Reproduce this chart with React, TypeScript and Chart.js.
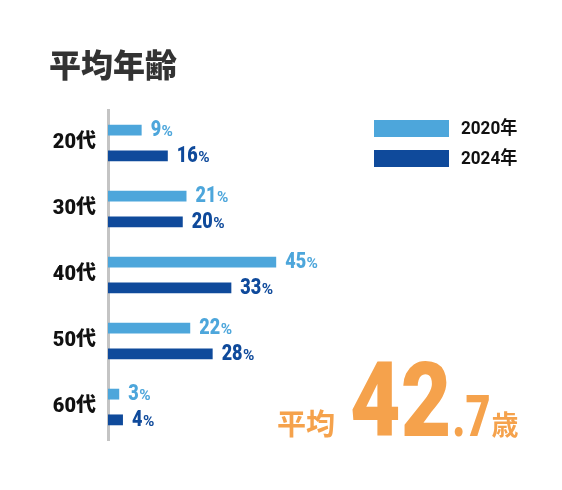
import React, { useEffect, useRef } from "react";
import { Chart, registerables } from "chart.js";

Chart.register(...registerables);

const categories = ["20代", "30代", "40代", "50代", "60代"];
const seriesLabels = ["2020年", "2024年"];
const values2020 = [9, 21, 45, 22, 3];
const values2024 = [16, 20, 33, 28, 4];
const titleText = "平均年齢";
const averageLabel = "平均";
const averageAge = "42.7";
const averageUnit = "歳";

const COLORS = ["#4da6db", "#0f4a9b"];
const ORANGE = "#f5a24c";
const NUM = 'Roboto, "Noto Sans CJK JP", sans-serif';
const CJK = '"Noto Sans CJK JP", sans-serif';

function drawCondensed(ctx: any, text: string, x: number, y: number, sx: number) {
  ctx.save();
  ctx.translate(x, y);
  ctx.scale(sx, 1);
  ctx.fillText(text, 0, 0);
  const w = ctx.measureText(text).width * sx;
  ctx.restore();
  return w;
}

const valueLabelPlugin = {
  id: "valueLabels",
  afterDatasetsDraw(chart: any) {
    const ctx = chart.ctx;
    ctx.save();
    chart.data.datasets.forEach((ds: any, i: number) => {
      const meta = chart.getDatasetMeta(i);
      meta.data.forEach((bar: any, j: number) => {
        const v = ds.data[j];
        const x = bar.x + 9;
        const y = bar.y + 6;
        ctx.fillStyle = ds.backgroundColor;
        ctx.textBaseline = "alphabetic";
        ctx.textAlign = "left";
        ctx.font = `900 22px ${NUM}`;
        const w = drawCondensed(ctx, String(v), x, y, 0.82);
        ctx.font = `bold 14px ${NUM}`;
        drawCondensed(ctx, "%", x + w + 0.5, y, 1.1);
      });
    });
    ctx.restore();
  },
};

const decorPlugin = {
  id: "decor",
  afterDraw(chart: any) {
    const ctx = chart.ctx;
    ctx.save();
    // title
    ctx.fillStyle = "#333";
    ctx.textAlign = "left";
    ctx.textBaseline = "middle";
    ctx.font = `900 32px ${CJK}`;
    ctx.fillText(titleText, 41, 57);

    // legend
    chart.data.datasets.forEach((ds: any, i: number) => {
      const top = 112 + i * 30;
      ctx.fillStyle = ds.backgroundColor;
      ctx.fillRect(366, top, 75, 17);
      ctx.fillStyle = "#111";
      ctx.font = `bold 18px ${NUM}`;
      ctx.textBaseline = "middle";
      drawCondensed(ctx, ds.label, 453, top + 9, 0.95);
    });

    // average
    const [intPart, decPart] = averageAge.split(".");
    const base = 428;
    ctx.fillStyle = ORANGE;
    ctx.textBaseline = "alphabetic";
    ctx.font = `bold 29px ${CJK}`;
    ctx.fillText(averageLabel, 269, base - 1);
    ctx.font = `900 104px ${NUM}`;
    const w1 = drawCondensed(ctx, intPart, 342, base, 0.84);
    ctx.font = `900 57px ${NUM}`;
    const w2 = drawCondensed(ctx, "." + decPart, 342 + w1 + 1, base, 0.76);
    ctx.font = `bold 27px ${CJK}`;
    ctx.fillText(averageUnit, 342 + w1 + 1 + w2 + 1, base - 1);
    ctx.restore();
  },
};

export default function App() {
  const ref = useRef<HTMLCanvasElement | null>(null);
  useEffect(() => {
    if (!ref.current) return;
    const chart = new Chart(ref.current, {
      type: "bar",
      data: {
        labels: categories,
        datasets: [
          {
            label: seriesLabels[0],
            data: values2020,
            backgroundColor: COLORS[0],
            categoryPercentage: 0.78,
            barPercentage: 0.42,
          },
          {
            label: seriesLabels[1],
            data: values2024,
            backgroundColor: COLORS[1],
            categoryPercentage: 0.78,
            barPercentage: 0.42,
          },
        ],
      },
      options: {
        indexAxis: "y",
        animation: false,
        responsive: true,
        maintainAspectRatio: false,
        layout: { padding: { top: 102, bottom: 42, left: 42, right: 218 } },
        plugins: {
          legend: { display: false },
          tooltip: { enabled: false },
          title: { display: false },
        },
        scales: {
          x: { display: false, min: 0, max: 61 },
          y: {
            grid: { display: false, drawTicks: false },
            border: { display: true, color: "#c4c4c4", width: 3 },
            ticks: {
              color: "#111",
              padding: 12,
              font: { family: NUM, size: 20, weight: "900" },
            },
            afterFit: (scale: any) => {
              scale.width = 58;
            },
          },
        },
      },
      plugins: [valueLabelPlugin, decorPlugin],
    });
    return () => chart.destroy();
  }, []);
  return (
    <div style={{ position: "relative", width: 546, height: 474 }}>
      <canvas ref={ref} />
    </div>
  );
}
